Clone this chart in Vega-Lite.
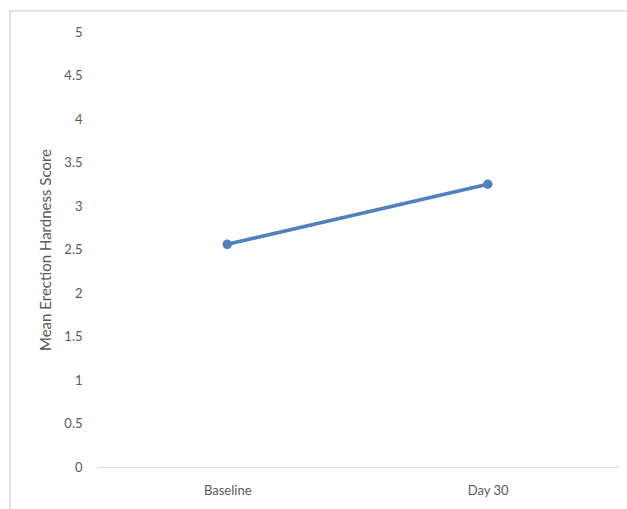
{
  "$schema": "https://vega.github.io/schema/vega-lite/v6.json",
  "autosize": "none",
  "width": 619,
  "height": 500,
  "padding": {"left": 10, "top": 11, "right": 0, "bottom": 0},
  "background": "white",
  "config": {
    "view": {"stroke": "#d9d9d9", "strokeWidth": 1.5},
    "font": "Lato"
  },
  "data": {
    "values": [
      {"timepoint": "Baseline", "score": 2.56},
      {"timepoint": "Day 30", "score": 3.25}
    ]
  },
  "encoding": {
    "x": {
      "field": "timepoint",
      "type": "nominal",
      "sort": ["Baseline", "Day 30"],
      "scale": {"type": "point", "range": [87, 608], "padding": 0.5},
      "axis": {
        "title": null,
        "offset": -44,
        "labelAngle": 0,
        "ticks": false,
        "grid": false,
        "domainColor": "#d9d9d9",
        "domainWidth": 1,
        "labelColor": "#595959",
        "labelFontSize": 13,
        "labelPadding": 17
      }
    },
    "y": {
      "field": "score",
      "type": "quantitative",
      "scale": {"domain": [0, 5], "range": [456, 21], "nice": false, "zero": true},
      "axis": {
        "title": "Mean Erection Hardness Score",
        "values": [0, 0.5, 1, 1.5, 2, 2.5, 3, 3.5, 4, 4.5, 5],
        "format": "~g",
        "offset": -87,
        "domain": false,
        "ticks": false,
        "grid": false,
        "labelColor": "#595959",
        "labelFontSize": 13,
        "labelPadding": 15,
        "titleColor": "#595959",
        "titleFontSize": 15,
        "titleFontWeight": "normal",
        "titlePadding": 10
      }
    }
  },
  "layer": [
    {
      "mark": {"type": "line", "color": "#4f81bd", "strokeWidth": 3.5}
    },
    {
      "mark": {"type": "point", "filled": true, "color": "#4f81bd", "opacity": 1, "size": 90}
    }
  ]
}
